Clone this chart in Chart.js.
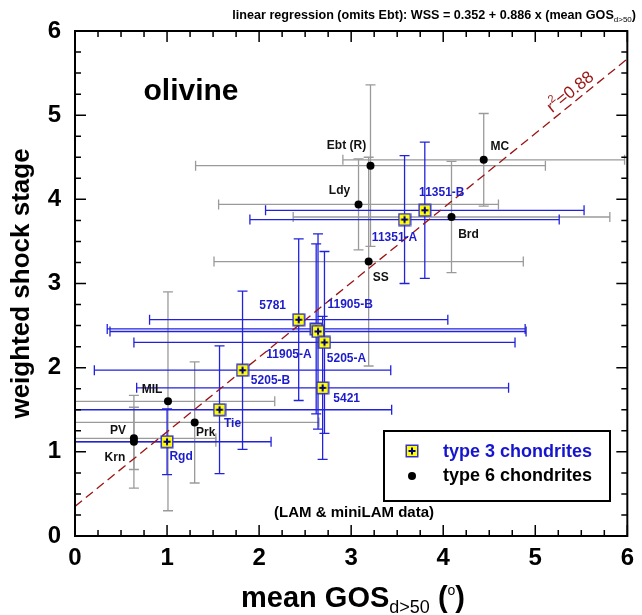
<!DOCTYPE html>
<html>
<head>
<meta charset="utf-8">
<script src="https://cdn.jsdelivr.net/npm/chart.js@4.4.0/dist/chart.umd.min.js"></script>
<style>
  body { margin: 0; background: #fff; }
  canvas { display: block; }
</style>
</head>
<body>
<canvas id="chart" width="642" height="615"></canvas>
<script>
// type 3 chondrites (yellow squares, blue error bars)
const type3Names = ['11351-B', '11351-A', '5781', '11905-B', '11905-A', '5205-A', '5421', '5205-B', 'Tie', 'Rgd'];
const type3Gos = [3.80, 3.58, 2.43, 2.62, 2.64, 2.71, 2.69, 1.82, 1.57, 1.00];
const type3Wss = [3.87, 3.76, 2.57, 2.46, 2.43, 2.30, 1.76, 1.97, 1.50, 1.12];
const type3GosErr = [1.73, 1.68, 1.62, 2.27, 2.26, 2.07, 2.02, 1.61, 1.87, 1.13];
const type3WssErr = [0.81, 0.76, 0.96, 1.01, 1.16, 1.08, 0.85, 0.94, 0.76, 0.39];

// type 6 chondrites (black dots, grey error bars)
const type6Names = ['Ebt (R)', 'MC', 'Ldy', 'Brd', 'SS', 'MIL', 'Prk', 'PV', 'Krn'];
const type6Gos = [3.21, 4.44, 3.08, 4.09, 3.19, 1.01, 1.30, 0.64, 0.64];
const type6Wss = [4.40, 4.47, 3.94, 3.79, 3.26, 1.60, 1.35, 1.16, 1.12];
const type6GosErr = [1.90, 1.53, 1.52, 1.72, 1.68, 1.16, 1.35, 0.89, 0.89];
const type6WssErr = [0.96, 0.55, 0.54, 0.66, 1.24, 1.30, 0.72, 0.37, 0.55];

// regression (omits Ebt)
const fitIntercept = 0.352;
const fitSlope = 0.886;
const fitR2 = '0.88';

const axisMin = 0;
const axisMax = 6;

// where each sample name sits relative to its point (px)
const labelOffsets = {
    '11351-B': [17, -18], '11351-A': [-10, 18], '5781': [-26, -14],
    '11905-B': [34, -24], '11905-A': [-29, 23], '5205-A': [22, 16],
    '5421': [24, 11], '5205-B': [28, 10], 'Tie': [13, 14], 'Rgd': [14, 15],
    'Ebt (R)': [-24, -20], 'MC': [16, -13], 'Ldy': [-19, -14], 'Brd': [17, 18],
    'SS': [12, 16], 'MIL': [-16, -12], 'Prk': [11, 10], 'PV': [-16, -8], 'Krn': [-19, 16]
};

const FONT = '"Liberation Sans", Arial, sans-serif';
const BLUE = '#2222dd';
const BLUE_TEXT = '#1c1ccc';
const GREY = '#9a9a9a';
const FIT_RED = '#9b1515';

Chart.defaults.font.family = FONT;

function makeSquare() {
    const c = document.createElement('canvas');
    c.width = 14; c.height = 14;
    const g = c.getContext('2d');
    g.fillStyle = '#ffff00';
    g.fillRect(1, 1, 12, 12);
    g.strokeStyle = '#3535c0';
    g.lineWidth = 1.5;
    g.strokeRect(1.25, 1.25, 11.5, 11.5);
    g.strokeStyle = '#00007a';
    g.lineWidth = 2;
    g.beginPath();
    g.moveTo(7, 3.5); g.lineTo(7, 10.5);
    g.moveTo(3.5, 7); g.lineTo(10.5, 7);
    g.stroke();
    return c;
}
const squareIcon = makeSquare();

function toPoints(xs, ys) {
    return xs.map((x, i) => ({ x: x, y: ys[i] }));
}

function drawErrorBars(chart, gos, wss, gErr, wErr, color) {
    const ctx = chart.ctx;
    const xs = chart.scales.x, ys = chart.scales.y;
    const cap = 5;
    ctx.strokeStyle = color;
    ctx.lineWidth = 1.3;
    for (let i = 0; i < gos.length; i++) {
        const px = xs.getPixelForValue(gos[i]);
        const py = ys.getPixelForValue(wss[i]);
        const x1 = xs.getPixelForValue(gos[i] - gErr[i]);
        const x2 = xs.getPixelForValue(gos[i] + gErr[i]);
        const y1 = ys.getPixelForValue(wss[i] - wErr[i]);
        const y2 = ys.getPixelForValue(wss[i] + wErr[i]);
        ctx.beginPath();
        ctx.moveTo(x1, py); ctx.lineTo(x2, py);
        ctx.moveTo(x1, py - cap); ctx.lineTo(x1, py + cap);
        ctx.moveTo(x2, py - cap); ctx.lineTo(x2, py + cap);
        ctx.moveTo(px, y1); ctx.lineTo(px, y2);
        ctx.moveTo(px - cap, y1); ctx.lineTo(px + cap, y1);
        ctx.moveTo(px - cap, y2); ctx.lineTo(px + cap, y2);
        ctx.stroke();
    }
}

function drawNames(chart, names, gos, wss, color) {
    const ctx = chart.ctx;
    ctx.fillStyle = color;
    ctx.font = 'bold 12px ' + FONT;
    ctx.textAlign = 'center';
    ctx.textBaseline = 'middle';
    names.forEach((n, i) => {
        const off = labelOffsets[n] || [0, 0];
        ctx.fillText(n, chart.scales.x.getPixelForValue(gos[i]) + off[0],
            chart.scales.y.getPixelForValue(wss[i]) + off[1]);
    });
}

// draws runs of [text, font, dy] one after another
function drawRuns(ctx, runs, x, y, align) {
    let total = 0;
    runs.forEach(r => { ctx.font = r[1]; total += ctx.measureText(r[0]).width; });
    let cx = align === 'right' ? x - total : (align === 'center' ? x - total / 2 : x);
    ctx.textAlign = 'left';
    ctx.textBaseline = 'alphabetic';
    runs.forEach(r => {
        ctx.font = r[1];
        ctx.fillText(r[0], cx, y + (r[2] || 0));
        cx += ctx.measureText(r[0]).width;
    });
}

const errorBarPlugin = {
    id: 'errorBars',
    beforeDatasetsDraw(chart) {
        const ctx = chart.ctx, a = chart.chartArea;
        ctx.save();
        ctx.beginPath();
        ctx.rect(a.left, a.top, a.right - a.left, a.bottom - a.top);
        ctx.clip();
        drawErrorBars(chart, type6Gos, type6Wss, type6GosErr, type6WssErr, GREY);
        drawErrorBars(chart, type3Gos, type3Wss, type3GosErr, type3WssErr, BLUE);
        ctx.restore();
    }
};

const decorPlugin = {
    id: 'decor',
    afterDraw(chart) {
        const ctx = chart.ctx, a = chart.chartArea;
        const xs = chart.scales.x, ys = chart.scales.y;
        ctx.save();

        // frame with inward ticks on all four sides
        ctx.strokeStyle = '#000';
        ctx.lineWidth = 2;
        ctx.strokeRect(a.left, a.top, a.right - a.left, a.bottom - a.top);
        ctx.lineWidth = 1.5;
        ctx.beginPath();
        for (let v = axisMin; v <= axisMax + 1e-9; v += 0.25) {
            const len = Math.abs(v - Math.round(v)) < 1e-6 ? 11 : 6;
            const px = xs.getPixelForValue(v);
            const py = ys.getPixelForValue(v);
            ctx.moveTo(px, a.bottom); ctx.lineTo(px, a.bottom - len);
            ctx.moveTo(px, a.top); ctx.lineTo(px, a.top + len);
            ctx.moveTo(a.left, py); ctx.lineTo(a.left + len, py);
            ctx.moveTo(a.right, py); ctx.lineTo(a.right - len, py);
        }
        ctx.stroke();

        // sample names
        drawNames(chart, type6Names, type6Gos, type6Wss, '#111');
        drawNames(chart, type3Names, type3Gos, type3Wss, BLUE_TEXT);

        // text inside the plot
        ctx.fillStyle = '#000';
        ctx.textAlign = 'center';
        ctx.textBaseline = 'middle';
        ctx.font = 'bold 30px ' + FONT;
        ctx.fillText('olivine', 191, 92);
        ctx.font = 'bold 15px ' + FONT;
        ctx.fillText('(LAM & miniLAM data)', 354, 513);

        // r² along the regression line
        const gx = 5.45;
        const p0x = xs.getPixelForValue(0), p0y = ys.getPixelForValue(fitIntercept);
        const p1x = xs.getPixelForValue(6), p1y = ys.getPixelForValue(fitIntercept + 6 * fitSlope);
        const ang = Math.atan2(p1y - p0y, p1x - p0x);
        ctx.save();
        ctx.translate(xs.getPixelForValue(gx), ys.getPixelForValue(fitIntercept + fitSlope * gx));
        ctx.rotate(ang);
        ctx.fillStyle = FIT_RED;
        drawRuns(ctx, [['r', '17px ' + FONT], ['2', '11px ' + FONT, -8], ['=' + fitR2, '17px ' + FONT]], 0, -5, 'center');
        ctx.restore();

        // legend box
        ctx.lineWidth = 2;
        ctx.strokeStyle = '#000';
        ctx.fillStyle = '#fff';
        ctx.fillRect(384, 431, 226, 70);
        ctx.strokeRect(384, 431, 226, 70);
        ctx.drawImage(squareIcon, 405, 444);
        ctx.fillStyle = '#000';
        ctx.beginPath();
        ctx.arc(412, 476, 4, 0, Math.PI * 2);
        ctx.fill();
        ctx.font = 'bold 18px ' + FONT;
        ctx.textAlign = 'left';
        ctx.textBaseline = 'middle';
        ctx.fillStyle = '#1515d0';
        ctx.fillText('type 3 chondrites', 443, 452);
        ctx.fillStyle = '#000';
        ctx.fillText('type 6 chondrites', 443, 476);

        // regression equation at the top
        ctx.fillStyle = '#000';
        drawRuns(ctx, [
            ['linear regression (omits Ebt): WSS = ' + fitIntercept + ' + ' + fitSlope + ' x (mean GOS', 'bold 12.6px ' + FONT],
            ['d>50', '8px ' + FONT, 3],
            [')', 'bold 12.6px ' + FONT]
        ], 636, 19, 'right');

        // x-axis title with subscript
        drawRuns(ctx, [
            ['mean GOS', 'bold 29px ' + FONT],
            ['d>50', '18px ' + FONT, 6],
            [' (', 'bold 29px ' + FONT],
            ['o', '14px ' + FONT, -12],
            [')', 'bold 29px ' + FONT]
        ], 353, 607, 'center');

        ctx.restore();
    }
};

new Chart(document.getElementById('chart'), {
    type: 'scatter',
    data: {
        datasets: [
            {
                label: 'type 3 chondrites',
                data: toPoints(type3Gos, type3Wss),
                pointStyle: squareIcon,
                order: 1
            },
            {
                label: 'type 6 chondrites',
                data: toPoints(type6Gos, type6Wss),
                pointStyle: 'circle',
                pointRadius: 4,
                backgroundColor: '#000',
                borderColor: '#000',
                borderWidth: 0,
                order: 2
            },
            {
                label: 'linear regression',
                type: 'line',
                data: [{ x: axisMin, y: fitIntercept + fitSlope * axisMin },
                       { x: axisMax, y: fitIntercept + fitSlope * axisMax }],
                borderColor: FIT_RED,
                borderWidth: 1.3,
                borderDash: [9, 5],
                pointRadius: 0,
                fill: false,
                order: 3
            }
        ]
    },
    options: {
        responsive: false,
        animation: false,
        layout: { padding: { top: 31, right: 9, left: 0, bottom: 0 } },
        plugins: { legend: { display: false }, tooltip: { enabled: false } },
        scales: {
            x: {
                type: 'linear',
                min: axisMin,
                max: axisMax,
                grid: { display: false, drawTicks: false },
                border: { display: false },
                ticks: { stepSize: 1, color: '#000', padding: 8, font: { size: 24, weight: 'bold' } },
                afterFit(scale) { scale.height = 79; }
            },
            y: {
                type: 'linear',
                min: axisMin,
                max: axisMax,
                grid: { display: false, drawTicks: false },
                border: { display: false },
                ticks: { stepSize: 1, color: '#000', padding: 14, font: { size: 24, weight: 'bold' } },
                title: {
                    display: true,
                    text: 'weighted shock stage',
                    color: '#000',
                    font: { size: 26, weight: 'bold' },
                    padding: { top: 6, bottom: 0 }
                },
                afterFit(scale) { scale.width = 75; }
            }
        }
    },
    plugins: [errorBarPlugin, decorPlugin]
});
</script>
</body>
</html>
